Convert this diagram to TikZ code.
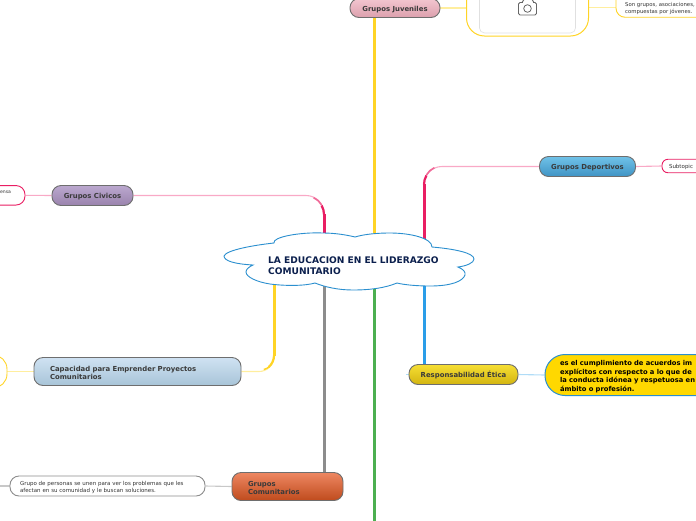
\documentclass[tikz,border=0pt]{standalone}
\usepackage{fontspec}
\setmainfont{DejaVu Sans}
\pgfdeclarelayer{lines}
\pgfsetlayers{lines,main}
\definecolor{crim}{HTML}{E91E63}
\definecolor{pinkm}{HTML}{F06A98}
\definecolor{pinkl}{HTML}{F9A9C6}
\definecolor{yel}{HTML}{FFD426}
\definecolor{yell}{HTML}{FFEE9E}
\definecolor{grn}{HTML}{4CAF50}
\definecolor{blu}{HTML}{2A9DE8}
\definecolor{blul}{HTML}{B0DCF7}
\definecolor{gry}{HTML}{8C8C8C}
\definecolor{gryl}{HTML}{C8C8C8}
\definecolor{cloudline}{HTML}{2B8FCF}
\definecolor{navy}{HTML}{0B1F4D}
\definecolor{txt}{HTML}{3A3A3A}
\definecolor{edge}{HTML}{6E6E6E}
\definecolor{gold}{HTML}{FFD800}
\definecolor{juvT}{HTML}{F3C6D0}\definecolor{juvB}{HTML}{DCA0AD}
\definecolor{civT}{HTML}{BBA8CF}\definecolor{civB}{HTML}{9A83AD}
\definecolor{depT}{HTML}{70C2E8}\definecolor{depB}{HTML}{3F93C4}
\definecolor{resT}{HTML}{F6DE34}\definecolor{resB}{HTML}{D3B510}
\definecolor{capT}{HTML}{CFE2F2}\definecolor{capB}{HTML}{A8C4D8}
\definecolor{comT}{HTML}{EE8762}\definecolor{comB}{HTML}{BF4B1D}
\tikzset{
  topic/.style args={#1/#2/#3/#4}{draw=edge,rounded corners=9pt,line width=.9pt,inner sep=0pt,text=txt,
     font=\bfseries\fontsize{6.9}{8.2}\selectfont,minimum width=#1pt,minimum height=#2pt,top color=#3,bottom color=#4,
     execute at begin node={\rule{0pt}{8.2pt}}},
  leaf/.style={draw=#1,fill=white,rounded corners=8pt,line width=.9pt,inner sep=0pt,text=black!80,font=\fontsize{5.5}{7}\selectfont},
  trunk/.style={line width=3pt},
  twig/.style={line width=1.1pt},
}
\begin{document}
\begin{tikzpicture}[x=1pt,y=-1pt]
\useasboundingbox (0,0) rectangle (696,520);
\clip (0,0) rectangle (696,520);
% hubs
\coordinate (hubA) at (324,255);
\coordinate (hubB) at (374,255);
\coordinate (hubC) at (424,255);
\coordinate (hubD) at (274,262);
\coordinate (bot) at (374,521);
\coordinate (offcom) at (-1,486);
\coordinate (yj) at (0,7.5);
% cloud
\draw[cloudline,fill=white,line width=.9pt] (224,256)
 .. controls (226,250) and (255,245) .. (274,243)
 .. controls (272,237) and (300,232) .. (323,233)
 .. controls (335,233) and (347,235) .. (355,237)
 .. controls (365,234) and (378,233) .. (390,233)
 .. controls (410,233) and (432,238) .. (432,247)
 .. controls (455,249) and (474,253) .. (474,259)
 .. controls (474,263) and (466,266) .. (458,267)
 .. controls (463,269) and (466,272) .. (465,275)
 .. controls (463,281) and (452,286) .. (430,286)
 .. controls (418,286) and (405,285) .. (397,283)
 .. controls (385,288) and (370,290) .. (353,290)
 .. controls (338,290) and (325,287) .. (315,283)
 .. controls (305,286) and (285,286) .. (270,284)
 .. controls (257,282) and (246,277) .. (246,272)
 .. controls (246,269) and (249,267) .. (253,265)
 .. controls (235,264) and (224,261) .. (224,256) -- cycle;
\node[anchor=west,inner sep=0pt,align=left,text=navy,font=\bfseries\fontsize{9.1}{10.7}\selectfont] (center) at (268,265.5) {LA EDUCACION EN EL LIDERAZGO\\COMUNITARIO};
% nodes
\node[topic=90/19/juvT/juvB] (juv) at (395,8) {Grupos Juveniles};
\node[topic=81/20/civT/civB] (civ) at (92.5,195.5) {Grupos Civicos};
\node[topic=96/20/depT/depB] (dep) at (587.5,166.5) {Grupos Deportivos};
\node[topic=109/20/resT/resB] (res) at (463.5,374.5) {Responsabilidad Ética};
\node[topic=207/28/capT/capB,text width=175pt,align=left] (cap) at (137.5,371.5) {Capacidad para Emprender Proyectos\\Comunitarios};
\node[topic=111/28/comT/comB,text width=79pt,align=left] (com) at (287.5,486.5) {Grupos\\Comunitarios};
\node[leaf=gry,minimum width=195pt,minimum height=20pt,rounded corners=9pt,text width=175pt,align=left] (lcom) at (107.5,486) {\rule{0pt}{6.5pt}Grupo de personas se unen para ver los problemas que les\\afectan en su comunidad y le buscan soluciones.};
\node[leaf=crim,minimum width=60pt,minimum height=19.5pt,rounded corners=9pt,text width=32pt,align=right,font=\fontsize{4.6}{7}\selectfont] (lciv) at (-5,195.3) {ensa\\\phantom{e}};
\node[leaf=yel,minimum width=40pt,minimum height=33pt,rounded corners=14pt] (lcap) at (-13,371.5) {};
\node[leaf=crim,minimum width=60pt,minimum height=13.5pt,rounded corners=6pt,text width=46pt,align=left] (ldep) at (692,166) {\rule{0pt}{6.5pt}Subtopic};
\node[draw=cloudline,fill=gold,rounded corners=20pt,line width=1pt,minimum width=300pt,minimum height=41pt,inner sep=0pt,text width=270pt,align=left,text=black,font=\bfseries\fontsize{6.75}{8.7}\selectfont] (lres) at (695,375) {\rule{0pt}{8.5pt}es el cumplimiento de acuerdos im\\explícitos con respecto a lo que de\\la conducta idónea y respetuosa en\\ámbito o profesión.};
\node[draw=yel,fill=white,rounded corners=18pt,line width=1pt,minimum width=122pt,minimum height=72pt,inner sep=0pt] (photo) at (527.5,0) {};
\node[draw=black!12,fill=white,rounded corners=5pt,line width=.6pt,minimum width=96pt,minimum height=66pt,inner sep=0pt] (photoin) at (527.5,0) {};
\node[leaf=yel,minimum width=120pt,minimum height=34.5pt,rounded corners=9pt] (ljuv) at (676,0) {};
\node[anchor=west,inner sep=0pt,text=black!80,font=\fontsize{5.35}{6.2}\selectfont,align=left] (tjuv) at (625,8.5) {Son grupos, asociaciones,\\compuestas por jóvenes.};
% camera
\draw[black!60,line width=.9pt,rounded corners=1.5pt] (518.5,2.5) rectangle (536.5,15);
\fill[white] (523,1) rectangle (533,3);
\draw[black!60,line width=.9pt,line join=round] (522,2.5) -- (524,-.5) -- (532,-.5) -- (534,2.5);
\draw[black!60,line width=.8pt] (527.5,8.5) circle (3.8);
% connectors
\begin{pgfonlayer}{lines}
\draw[trunk,yel] (hubB) -- (hubB |- juv.south);
\draw[trunk,grn] (hubB) -- (bot);
\draw[trunk,gry] (hubA) -- (hubA |- com.north);
\draw[trunk,blu] (hubC) -- (hubC |- res.north);
% Civicos
\draw[twig,pinkl,rounded corners=18pt] (civ.east) -| (hubA);
\draw[trunk,crim] (hubA) -- (324,214);
\draw[line width=2.2pt,crim] (324,214.5) arc[start angle=0,end angle=-30,radius=18];
\draw[line width=1.6pt,pinkm] (321.6,205) arc[start angle=-30,end angle=-65,radius=18];
% Deportivos
\draw[twig,pinkl,rounded corners=18pt] (dep.west) -| (hubC);
\draw[trunk,crim] (hubC) -- (424,184);
\draw[line width=2.2pt,crim] (424,184.5) arc[start angle=180,end angle=210,radius=18];
\draw[line width=1.6pt,pinkm] (426.4,175) arc[start angle=210,end angle=245,radius=18];
% Capacidad
\draw[twig,yell,rounded corners=15pt] (cap.east) -| (hubD);
\draw[trunk,yel] (hubD) -- (274,356);
\draw[line width=2.2pt,yel] (274,355.5) arc[start angle=0,end angle=50,radius=15];
\draw[line width=1.5pt,yel] (269.6,366.5) arc[start angle=50,end angle=75,radius=15];
% twigs
\draw[twig,pinkl] (civ.west) -- (lciv.east);
\draw[twig,pinkl] (dep.east) -- (ldep.west);
\draw[twig,yell] (cap.west) -- (lcap.east);
\draw[twig,gryl] (com.west) -- (lcom.east);
\draw[twig,gryl] (lcom.west) -- (offcom);
\draw[twig,blul] (res.east) -- (lres.west);
\draw[twig,blul] (res.west) -- ++(-2.5,0);
\draw[twig,yell] (juv.east) -- (juv.east -| photo.west);
\draw[twig,yell] (photo.east |- yj) -- (ljuv.west |- yj);
\end{pgfonlayer}
\end{tikzpicture}
\end{document}
